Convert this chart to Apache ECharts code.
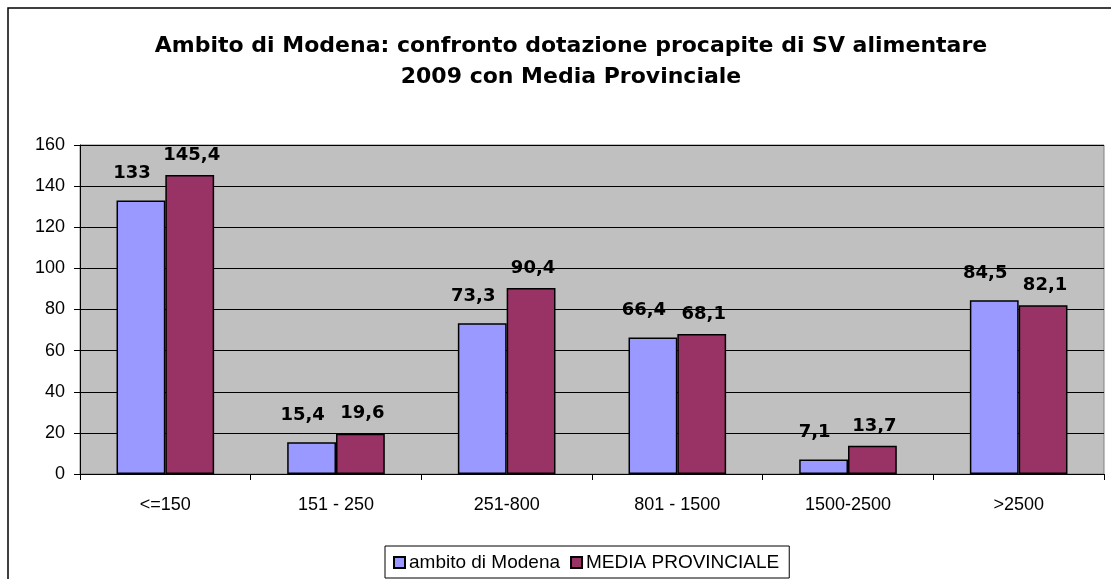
<!DOCTYPE html>
<html>
<head>
<meta charset="utf-8">
<script src="https://cdn.jsdelivr.net/npm/echarts@6/dist/echarts.min.js"></script>
<style>
  html, body { margin: 0; padding: 0; background: #fff; }
  #chart { width: 1111px; height: 579px; }
</style>
</head>
<body>
<div id="chart"></div>
<script>
var categories = ['<=150', '151 - 250', '251-800', '801 - 1500', '1500-2500', '>2500'];
var modena = [133, 15.4, 73.3, 66.4, 7.1, 84.5];
var provincia = [145.4, 19.6, 90.4, 68.1, 13.7, 82.1];
var yTicks = [0, 20, 40, 60, 80, 100, 120, 140, 160];

var chart = echarts.init(document.getElementById('chart'));

// etichette con virgola decimale
function fmt(p) {
  return String(p.value).replace('.', ',');
}

var option = {
  animation: false,
  title: {
    text: 'Ambito di Modena: confronto dotazione procapite di SV alimentare\n2009 con Media Provinciale',
    left: 566,
    top: 26,
    textAlign: 'center',
    textStyle: {
      fontFamily: 'DejaVu Sans',
      fontWeight: 'bold',
      fontSize: 22,
      lineHeight: 31,
      color: '#000'
    }
  },
  graphic: [{
    type: 'rect',
    shape: { x: 8, y: 8, width: 1200, height: 700 },
    style: { fill: 'none', stroke: '#000', lineWidth: 1.5 },
    silent: true
  }],
  legend: {
    bottom: 1,
    left: 385,
    itemWidth: 11,
    itemHeight: 11,
    itemGap: 10,
    padding: [7, 10, 6, 8],
    borderColor: '#000',
    borderWidth: 1,
    backgroundColor: '#fff',
    icon: 'rect',
    textStyle: { fontFamily: 'Liberation Sans', fontSize: 19, color: '#000', padding: [0, 0, 0, -1] },
    data: ['ambito di Modena', 'MEDIA PROVINCIALE']
  },
  grid: {
    left: 80,
    right: 7,
    top: 145,
    bottom: 105,
    show: true,
    backgroundColor: '#c0c0c0',
    borderColor: '#808080',
    borderWidth: 1
  },
  xAxis: {
    type: 'category',
    data: categories,
    axisLine: { lineStyle: { color: '#000', width: 1 } },
    axisTick: { show: true, alignWithLabel: false, length: 6, lineStyle: { color: '#000' } },
    axisLabel: { fontFamily: 'Liberation Sans', fontSize: 18, color: '#000', margin: 22 }
  },
  yAxis: {
    type: 'value',
    min: yTicks[0],
    max: yTicks[yTicks.length - 1],
    interval: 20,
    axisLine: { show: true, lineStyle: { color: '#000' } },
    axisTick: { show: true, length: 6, lineStyle: { color: '#000' } },
    axisLabel: { fontFamily: 'Liberation Sans', fontSize: 18, color: '#000', margin: 15 },
    splitLine: { show: true, lineStyle: { color: '#000', width: 1 } }
  },
  series: [
    {
      name: 'ambito di Modena',
      type: 'bar',
      data: modena,
      barWidth: '28.6%',
      barGap: '0%',
      itemStyle: { color: '#9999ff', borderColor: '#000', borderWidth: 1.5 },
      label: {
        show: true,
        position: 'top',
        distance: 18,
        offset: [-9, 0],
        formatter: fmt,
        fontFamily: 'DejaVu Sans',
        fontWeight: 'bold',
        fontSize: 18,
        color: '#000'
      }
    },
    {
      name: 'MEDIA PROVINCIALE',
      type: 'bar',
      data: provincia,
      barWidth: '28.6%',
      barGap: '0%',
      itemStyle: { color: '#993366', borderColor: '#000', borderWidth: 1.5 },
      label: {
        show: true,
        position: 'top',
        distance: 11,
        offset: [2, 0],
        formatter: fmt,
        fontFamily: 'DejaVu Sans',
        fontWeight: 'bold',
        fontSize: 18,
        color: '#000'
      }
    }
  ]
};

chart.setOption(option);
</script>
</body>
</html>
